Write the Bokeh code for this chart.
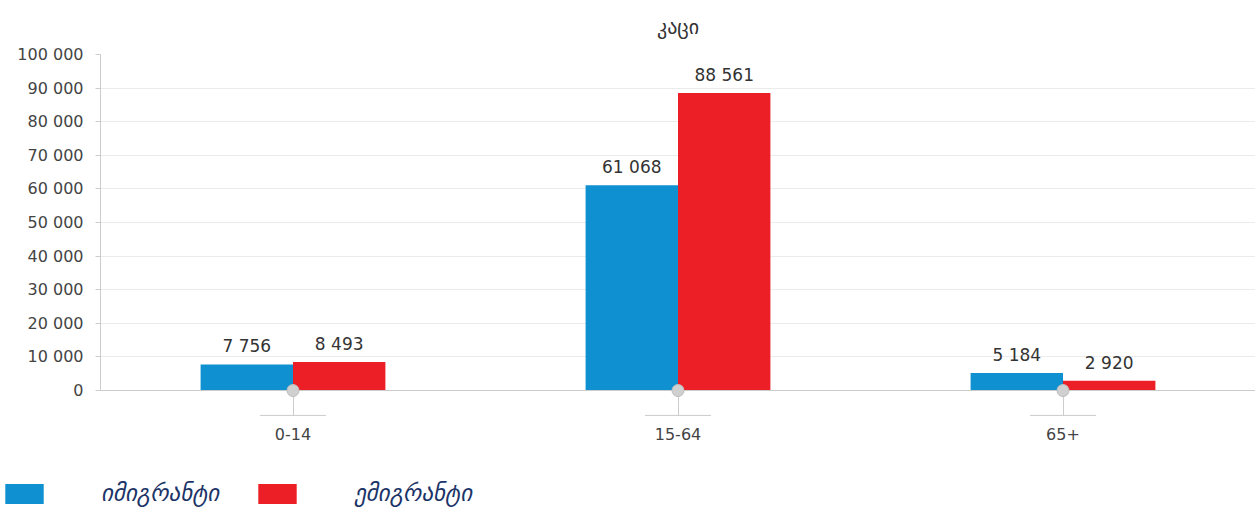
from bokeh.plotting import figure
from bokeh.layouts import column
from bokeh.models import (ColumnDataSource, FactorRange, Range1d, SingleIntervalTicker,
                          CustomJSTickFormatter, Legend, LegendItem)
from bokeh.transform import dodge
from bokeh.core.properties import value
from bokeh.embed import file_html
from bokeh.resources import INLINE

categories = ["0-14", "15-64", "65+"]
immigrants = [7756, 61068, 5184]
emigrants = [8493, 88561, 2920]
series_names = ["იმიგრანტი", "ემიგრანტი"]
title_text = "კაცი"

BLUE = "#0f90d0"
RED = "#ec1f26"
GRID = "#ebebeb"
AXIS = "#cccccc"
TEXT = "#333333"
FONT = "DejaVu Sans"

def fmt(v):
    return f"{v:,}".replace(",", " ")

src = ColumnDataSource(dict(
    cat=categories,
    imm=immigrants,
    emi=emigrants,
    imm_lbl=[fmt(v) for v in immigrants],
    emi_lbl=[fmt(v) for v in emigrants],
    zero=[0] * len(categories),
    deco=[-25] * len(categories),
))

p = figure(width=1255, height=460, x_range=FactorRange(factors=categories, range_padding=0),
           y_range=Range1d(0, 100000), output_backend="svg", toolbar_location=None,
           min_border_left=100, min_border_right=0, min_border_top=53, min_border_bottom=70)
p.extra_y_ranges = {"px": Range1d(0, 337)}
p.outline_line_color = None
p.background_fill_color = "white"
p.border_fill_color = "white"
p.frame_align = False

p.title.text = title_text
p.title.align = "center"
p.title.vertical_align = "top"
p.title.text_font = "DejaVu Sans"
p.title.text_font_size = "20px"
p.title.text_font_style = "normal"
p.title.text_color = TEXT
p.title.standoff = 28

bw = 0.24
r_imm = p.vbar(x=dodge("cat", -bw / 2, range=p.x_range), top="imm", width=bw, source=src,
               fill_color=BLUE, line_color=None)
r_emi = p.vbar(x=dodge("cat", bw / 2, range=p.x_range), top="emi", width=bw, source=src,
               fill_color=RED, line_color=None)

lbl_common = dict(text_font=value(FONT), text_font_size="17px", text_color=TEXT,
                  text_align="center", text_baseline="bottom", y_offset=-8)
p.text(x=dodge("cat", -bw / 2, range=p.x_range), y="imm", text="imm_lbl", source=src, **lbl_common)
p.text(x=dodge("cat", bw / 2, range=p.x_range), y="emi", text="emi_lbl", source=src, **lbl_common)

# axis decorations: marker on the axis line and short horizontal bar below tick
p.scatter(x="cat", y="deco", y_range_name="px", marker="dash", size=66, line_color=AXIS,
          line_width=1, source=src, level="overlay")
p.scatter(x="cat", y="zero", marker="circle", size=12, fill_color="#d0d0d0",
          line_color="#bdbdbd", source=src, level="overlay")

# axes
p.yaxis.ticker = SingleIntervalTicker(interval=10000)
p.yaxis.formatter = CustomJSTickFormatter(code="return tick.toLocaleString('en-US').replace(/,/g, ' ');")
p.yaxis.axis_line_color = AXIS
p.yaxis.major_tick_line_color = AXIS
p.yaxis.major_tick_in = 0
p.yaxis.major_tick_out = 5
p.yaxis.minor_tick_line_color = None
p.yaxis.major_label_standoff = 12
p.yaxis.major_label_text_font = FONT
p.yaxis.major_label_text_font_size = "16px"
p.yaxis.major_label_text_color = "#444444"

p.xaxis.axis_line_color = AXIS
p.xaxis.major_tick_line_color = AXIS
p.xaxis.major_tick_in = 0
p.xaxis.major_tick_out = 25
p.xaxis.minor_tick_line_color = None
p.xaxis.major_label_standoff = 12
p.xaxis.major_label_text_font = FONT
p.xaxis.major_label_text_font_size = "16px"
p.xaxis.major_label_text_color = "#444444"

p.xgrid.grid_line_color = None
p.ygrid.grid_line_color = GRID
p.ygrid.ticker = SingleIntervalTicker(interval=10000)

# legend strip below the chart
lf = figure(width=1255, height=58, output_backend="svg", toolbar_location=None,
            x_range=Range1d(0, 1), y_range=Range1d(0, 1),
            x_axis_location=None, y_axis_location=None,
            min_border_left=0, min_border_right=0, min_border_top=0, min_border_bottom=0)
lf.frame_align = False
lf.outline_line_color = None
lf.grid.visible = False
offscreen = ColumnDataSource(dict(x=[5.0], top=[5.0]))
l_imm = lf.vbar(x="x", top="top", width=0.1, source=offscreen, fill_color=BLUE, line_color=None)
l_emi = lf.vbar(x="x", top="top", width=0.1, source=offscreen, fill_color=RED, line_color=None)

legend = Legend(items=[LegendItem(label=series_names[0], renderers=[l_imm]),
                       LegendItem(label=series_names[1], renderers=[l_emi])],
                orientation="horizontal", location=(0, 12),
                glyph_width=48, glyph_height=25, label_standoff=53, spacing=34,
                padding=0, margin=0, border_line_color=None, background_fill_alpha=0,
                label_text_font="DejaVu Sans", label_text_font_style="italic",
                label_text_font_size="23px", label_text_color="#1b3468", label_height=25)
lf.add_layout(legend, "center")

layout = column(p, lf, spacing=0)
open("out.html", "w").write(file_html(layout, INLINE))
